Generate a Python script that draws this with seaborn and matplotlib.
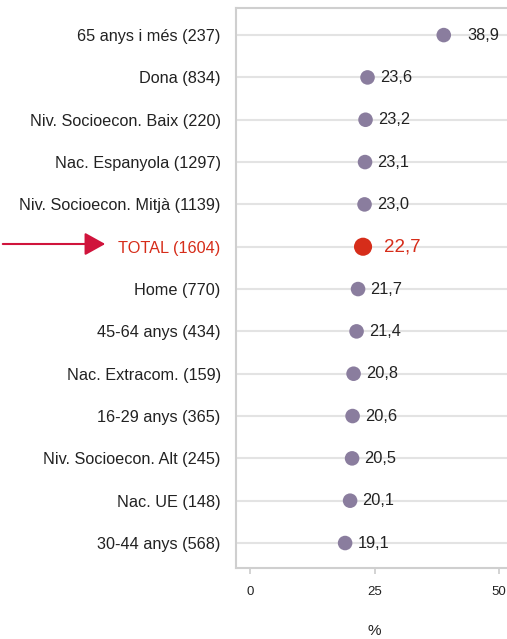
import numpy as np
import pandas as pd
import matplotlib.pyplot as plt
import seaborn as sns

categories = ['65 anys i més (237)', 'Dona (834)', 'Niv. Socioecon. Baix (220)',
              'Nac. Espanyola (1297)', 'Niv. Socioecon. Mitjà (1139)', 'TOTAL (1604)',
              'Home (770)', '45-64 anys (434)', 'Nac. Extracom. (159)',
              '16-29 anys (365)', 'Niv. Socioecon. Alt (245)', 'Nac. UE (148)',
              '30-44 anys (568)']
values = [38.9, 23.6, 23.2, 23.1, 23.0, 22.7, 21.7, 21.4, 20.8, 20.6, 20.5, 20.1, 19.1]
x_ticks = [0, 25, 50]

df = pd.DataFrame({'cat': categories, 'val': values})
df['pos'] = np.arange(len(df))
df['total'] = df['cat'].str.startswith('TOTAL')

sns.set_theme(style='white')
plt.rcParams['font.family'] = ['Liberation Sans', 'DejaVu Sans']

fig = plt.figure(figsize=(5.07, 6.39), dpi=100)
ax = fig.add_axes([236/507, 1-568/639, 278/507, 560/639])

purple = '#8a7d9e'
red = '#d62d1a'

# grid lines at each row
for p in df['pos']:
    ax.axhline(p, color='#e3e3e3', lw=1.5, zorder=0)

others = df[~df['total']]
tot = df[df['total']]
sns.scatterplot(data=others, x='val', y='pos', color=purple, s=110, edgecolor='none', ax=ax, zorder=3)
sns.scatterplot(data=tot, x='val', y='pos', color=red, s=170, edgecolor='none', ax=ax, zorder=3)

# value labels
for _, r in df.iterrows():
    txt = f"{r['val']:.1f}".replace('.', ',')
    if r['total']:
        ax.annotate(txt, (r['val'], r['pos']), xytext=(15, 0), textcoords='offset points',
                    va='center', ha='left', fontsize=13.5, color=red)
    else:
        off = 17 if r['val'] == max(values) else 9
        ax.annotate(txt, (r['val'], r['pos']), xytext=(off, 0), textcoords='offset points',
                    va='center', ha='left', fontsize=11.8, color='#222222')

ax.set_xlim(-2.8, 53)
ax.set_ylim(len(df) - 1 + 0.59, -0.64)
ax.set_yticks(df['pos'])
ax.set_yticklabels(df['cat'])
for lbl, t in zip(ax.get_yticklabels(), df['total']):
    lbl.set_color(red if t else '#222222')
    lbl.set_fontsize(11.7)
ax.tick_params(axis='y', length=0, pad=11)
ax.set_xticks(x_ticks)
ax.tick_params(axis='x', bottom=True, direction='out', length=4, width=1.2, color='#cccccc',
               labelsize=9.5, pad=9, labelcolor='#222222')
ax.set_xlabel('%', fontsize=11, color='#222222')
ax.set_ylabel('')
ax.xaxis.set_label_coords((25 + 2.8) / 55.8, -0.1)

for s in ax.spines.values():
    s.set_color('#cfcfcf')
    s.set_linewidth(1.5)

# arrow pointing at TOTAL
fig.patches.append(plt.matplotlib.patches.FancyArrowPatch(
    (0, 1 - 244/639), (108/507, 1 - 244/639), transform=fig.transFigure,
    arrowstyle='-|>,head_length=0.9,head_width=0.5', mutation_scale=14,
    color='#d0143c', lw=1.5))

fig.savefig('out.png', dpi=100)
